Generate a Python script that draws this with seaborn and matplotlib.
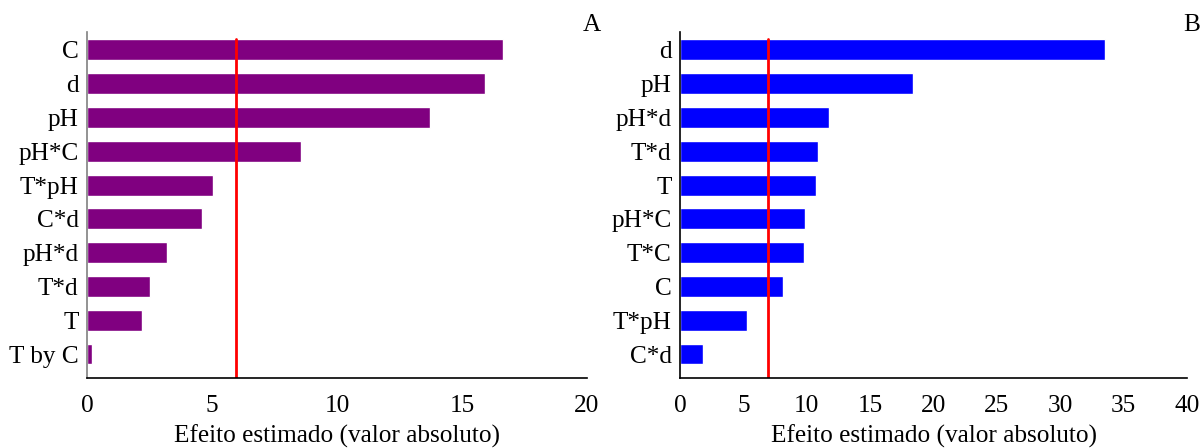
import matplotlib
matplotlib.use("Agg")
import matplotlib.pyplot as plt
import seaborn as sns
import pandas as pd

# Panel A data
cats_a = ["C", "d", "pH", "pH*C", "T*pH", "C*d", "pH*d", "T*d", "T", "T by C"]
vals_a = [16.65, 15.9, 13.72, 8.56, 5.04, 4.6, 3.2, 2.52, 2.2, 0.18]
thr_a = 5.96

# Panel B data
cats_b = ["d", "pH", "pH*d", "T*d", "T", "pH*C", "T*C", "C", "T*pH", "C*d"]
vals_b = [33.5, 18.38, 11.76, 10.89, 10.73, 9.86, 9.78, 8.13, 5.29, 1.81]
thr_b = 6.94

xticks_a = [0, 5, 10, 15, 20]
xticks_b = [0, 5, 10, 15, 20, 25, 30, 35, 40]
xlabel = "Efeito estimado (valor absoluto)"

sns.set_style("white")
plt.rcParams["font.family"] = ["Liberation Serif", "DejaVu Serif"]
plt.rcParams["text.color"] = "black"
plt.rcParams["axes.labelcolor"] = "black"
plt.rcParams["xtick.color"] = "black"
plt.rcParams["ytick.color"] = "black"
FS = 18.2

fig = plt.figure(figsize=(12.04, 4.48), dpi=100)
ax_a = fig.add_axes([87/1204, 70/448, 500/1204, 346/448])
ax_b = fig.add_axes([680/1204, 70/448, 507/1204, 346/448])

def panel(ax, cats, vals, color, thr, xticks, letter, left_spine_color):
    df = pd.DataFrame({"cat": cats, "val": vals})
    sns.barplot(data=df, y="cat", x="val", orient="h", color=color,
                saturation=1, width=0.62, ax=ax)
    ax.set_ylim(9.71, -0.53)
    ax.set_xlim(xticks[0], xticks[-1])
    ax.set_xticks(xticks)
    ax.set_ylabel("")
    ax.set_xlabel(xlabel, fontsize=FS, labelpad=6, color="black")
    ax.tick_params(axis="both", length=0, labelsize=FS, labelcolor="black")
    ax.tick_params(axis="x", pad=12)
    ax.tick_params(axis="y", pad=6)
    for s in ["top", "right"]:
        ax.spines[s].set_visible(False)
    ax.spines["bottom"].set_color("black")
    ax.spines["left"].set_color(left_spine_color)
    ax.spines["bottom"].set_linewidth(1.2)
    ax.spines["left"].set_linewidth(1.2)
    # threshold line from bottom up to top of first bar
    top_frac = (9.71 - (-0.31)) / (9.71 - (-0.53))
    ax.axvline(thr, ymin=0, ymax=top_frac, color="#FF0000", linewidth=2)
    ax.text(1.01, 1.02, letter, transform=ax.transAxes, fontsize=FS,
            ha="center", va="center", color="black")

panel(ax_a, cats_a, vals_a, "#800080", thr_a, xticks_a, "A", "#808080")
panel(ax_b, cats_b, vals_b, "#0000FF", thr_b, xticks_b, "B", "black")

fig.savefig("out.png", dpi=100)
